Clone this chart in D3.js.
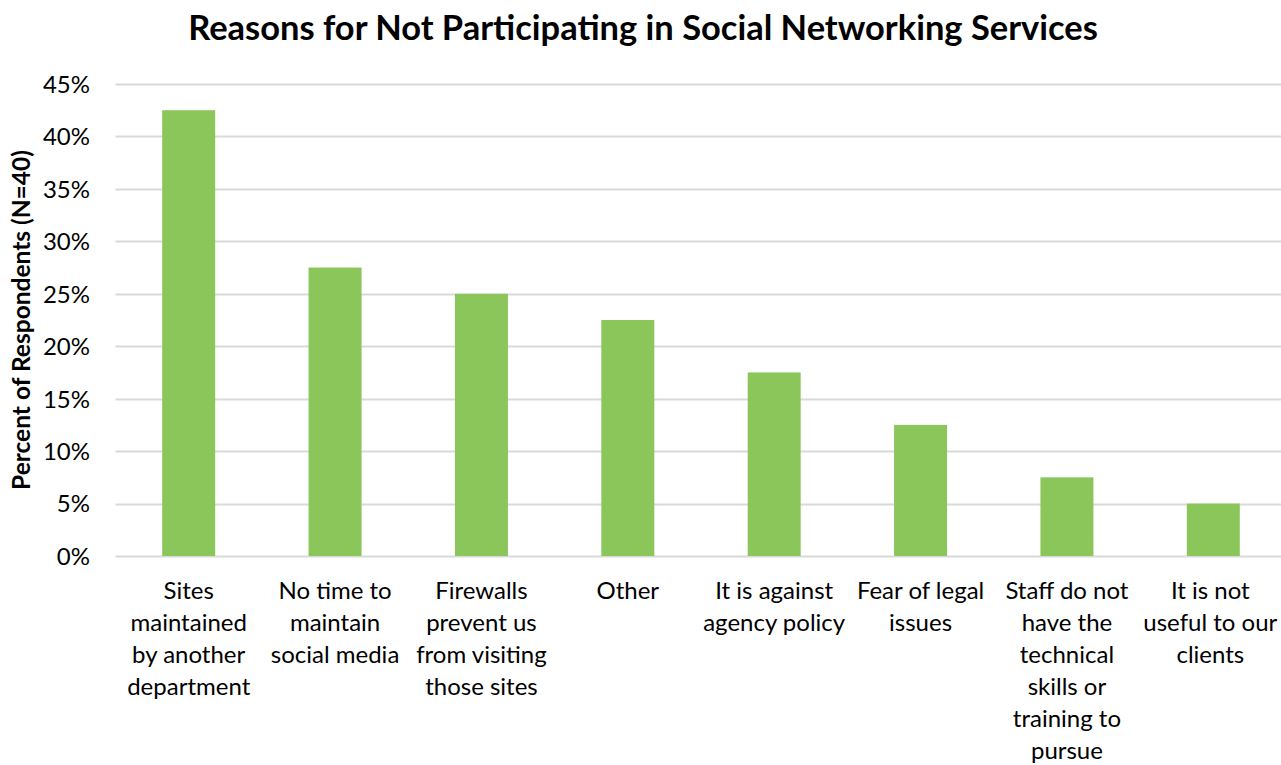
<!DOCTYPE html>
<html>
<head>
<meta charset="utf-8">
<script src="https://cdn.jsdelivr.net/npm/d3@7"></script>
<style>
  html, body { margin: 0; padding: 0; background: #fff; }
  svg { display: block; }
  text { font-family: Lato, "Open Sans", "Liberation Sans", sans-serif; fill: #000; }
</style>
</head>
<body>
<svg id="chart" width="1281" height="765"></svg>
<script>
// Survey answers (share of respondents, N = 40)
const categories = [
  "Sites\nmaintained\nby another\ndepartment",
  "No time to\nmaintain\nsocial media",
  "Firewalls\nprevent us\nfrom visiting\nthose sites",
  "Other",
  "It is against\nagency policy",
  "Fear of legal\nissues",
  "Staff do not\nhave the\ntechnical\nskills or\ntraining to\npursue",
  "It is not\nuseful to our\nclients"
];
const values = [0.425, 0.275, 0.25, 0.225, 0.175, 0.125, 0.075, 0.05];
const yTicks = [0, 0.05, 0.10, 0.15, 0.20, 0.25, 0.30, 0.35, 0.40, 0.45];

const title = "Reasons for Not Participating in Social Networking Services";
const yTitle = "Percent of Respondents (N=40)";

const svg = d3.select("#chart");
const margin = { left: 115.5, right: 1286.5, top: 84, bottom: 556 };

const x = d3.scaleBand()
  .domain(categories)
  .range([margin.left, margin.right])
  .padding(0);

const y = d3.scaleLinear()
  .domain([0, 0.45])
  .range([margin.bottom, margin.top]);

// Pick a font size so a reference word spans the wanted width
function fitSize(sample, weight, targetWidth, baseSize) {
  const t = svg.append("text")
    .style("font-size", baseSize + "px")
    .style("font-weight", weight)
    .text(sample);
  const w = t.node().getComputedTextLength();
  t.remove();
  return baseSize * targetWidth / w;
}

const labelSize = Math.min(
  fitSize("department", 400, 127, 26),
  fitSize("useful to our", 400, 134, 26)
);
const titleSize = fitSize(title, 700, 910, 32);
const yTitleSize = fitSize(yTitle, 700, 340, 20);

// Horizontal gridlines
svg.append("g")
  .selectAll("line")
  .data(yTicks)
  .join("line")
  .attr("x1", margin.left)
  .attr("x2", 1281)
  .attr("y1", d => Math.round(y(d)) + 0.5)
  .attr("y2", d => Math.round(y(d)) + 0.5)
  .attr("stroke", "#d9d9d9")
  .attr("stroke-width", 2);

// Y axis tick labels
const yAxis = d3.axisLeft(y)
  .tickValues(yTicks)
  .tickFormat(d3.format(".0%"))
  .tickSize(0)
  .tickPadding(0);

svg.append("g")
  .attr("transform", "translate(90,0)")
  .call(yAxis)
  .call(g => g.select(".domain").remove())
  .call(g => g.selectAll("text")
    .attr("fill", "#000")
    .attr("dy", "0.35em")
    .style("font-size", labelSize + "px")
    .style("font-family", "Lato, 'Open Sans', sans-serif"));

// Bars
const barWidth = x.bandwidth() * 0.362;
svg.append("g")
  .selectAll("rect")
  .data(values)
  .join("rect")
  .attr("x", (d, i) => x(categories[i]) + (x.bandwidth() - barWidth) / 2)
  .attr("width", barWidth)
  .attr("y", d => y(d))
  .attr("height", d => y(0) - y(d))
  .attr("fill", "#8bc65b");

// Category labels, one tspan per line
const lineHeight = 32;
const catLabels = svg.append("g")
  .selectAll("text")
  .data(categories)
  .join("text")
  .attr("text-anchor", "middle")
  .attr("transform", (d, i) => {
    // keep the last label inside the right edge
    const cx = x(d) + x.bandwidth() / 2 - (i === categories.length - 1 ? 3 : 0);
    return `translate(${cx},599)`;
  })
  .style("font-size", labelSize + "px");

catLabels.selectAll("tspan")
  .data(d => d.split("\n"))
  .join("tspan")
  .attr("x", 0)
  .attr("y", (d, i) => i * lineHeight)
  .text(d => d);

// Y axis title
svg.append("text")
  .attr("transform", "translate(30,320) rotate(-90)")
  .attr("text-anchor", "middle")
  .style("font-size", yTitleSize + "px")
  .style("font-weight", 700)
  .text(yTitle);

// Chart title
svg.append("text")
  .attr("x", 643)
  .attr("y", 40)
  .attr("text-anchor", "middle")
  .style("font-size", titleSize + "px")
  .style("font-weight", 700)
  .text(title);
</script>
</body>
</html>
